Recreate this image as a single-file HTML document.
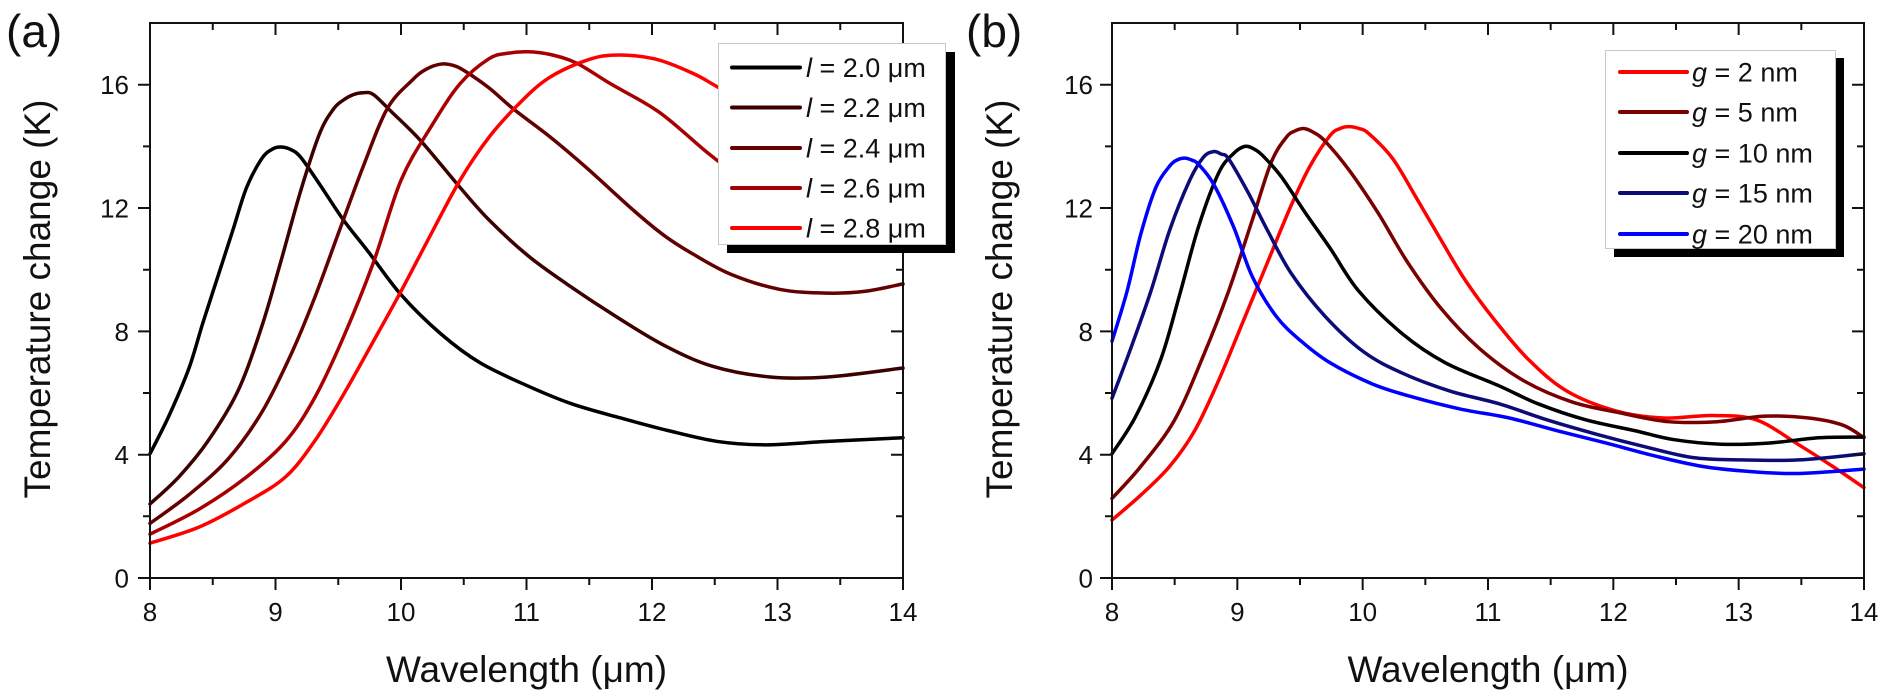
<!DOCTYPE html>
<html>
<head>
<meta charset="utf-8">
<style>
html,body{margin:0;padding:0;background:#fff;}
svg{display:block;}
text{font-family:"Liberation Sans",Arial,sans-serif;fill:#111;}
</style>
</head>
<body>
<svg id="chart" width="1889" height="700" viewBox="0 0 1889 700" xmlns="http://www.w3.org/2000/svg">
<rect x="0" y="0" width="1889" height="700" fill="#fff"/>

<!-- ================= PANEL A ================= -->
<text x="6" y="47" font-size="46">(a)</text>

<g transform="translate(150,578) scale(125.5,-30.83) translate(-8,0)" fill="none" stroke-width="3.5" stroke-linejoin="round" stroke-linecap="round">
<polyline class="c" vector-effect="non-scaling-stroke" stroke="#000000" points="8,4.03 8.15,5.25 8.31,6.8 8.42,8.26 8.54,9.77 8.66,11.28 8.77,12.67 8.89,13.6 8.97,13.9 9.04,13.98 9.12,13.9 9.2,13.65 9.35,12.78 9.54,11.62 9.74,10.58 10.0,9.19 10.32,7.91 10.63,6.98 11.01,6.23 11.36,5.65 11.75,5.19 12.13,4.78 12.52,4.43 12.9,4.32 13.4,4.43 14,4.55"/>
<polyline class="c" vector-effect="non-scaling-stroke" stroke="#3d0000" points="8,2.4 8.23,3.28 8.46,4.43 8.7,6.06 8.89,8.15 9.04,10.23 9.2,12.55 9.35,14.4 9.46,15.2 9.54,15.5 9.62,15.68 9.7,15.74 9.78,15.68 9.93,15.1 10.16,14.17 10.47,12.67 10.7,11.62 11.01,10.46 11.32,9.54 11.71,8.49 12.09,7.56 12.48,6.87 12.94,6.52 13.4,6.52 14,6.81"/>
<polyline class="c" vector-effect="non-scaling-stroke" stroke="#640000" points="8,1.77 8.31,2.7 8.62,3.85 8.89,5.37 9.12,7.22 9.31,9.07 9.51,11.28 9.7,13.36 9.89,15.22 10.09,16.15 10.2,16.5 10.32,16.67 10.42,16.62 10.51,16.44 10.7,15.9 10.9,15.2 11.19,14.3 11.48,13.3 11.86,11.9 12.1,11.1 12.33,10.5 12.63,9.85 13.02,9.36 13.4,9.24 13.7,9.3 14,9.54"/>
<polyline class="c" vector-effect="non-scaling-stroke" stroke="#a80000" points="8,1.42 8.39,2.23 8.77,3.28 9.08,4.43 9.31,5.83 9.54,7.8 9.78,10.23 10.0,12.9 10.24,14.64 10.47,16.03 10.7,16.84 10.85,17.02 11.01,17.07 11.19,16.98 11.4,16.7 11.67,16.03 12.06,15.1 12.44,13.8 12.7,13.0 13,12.2"/>
<polyline class="c" vector-effect="non-scaling-stroke" stroke="#ff0000" points="8,1.13 8.39,1.65 8.77,2.46 9.08,3.28 9.31,4.43 9.54,5.94 9.78,7.68 10.0,9.3 10.24,11.16 10.47,12.9 10.7,14.29 10.93,15.34 11.17,16.2 11.47,16.78 11.7,16.96 12.02,16.84 12.32,16.38 12.53,15.91 13,14.8"/>
</g>

<g stroke="#111" stroke-width="2" fill="none">
<rect x="150" y="23" width="753" height="555"/>
<path d="M150,578v12 M275.5,578v12 M401,578v12 M526.5,578v12 M652,578v12 M777.5,578v12 M903,578v12
M212.75,578v7 M338.25,578v7 M463.75,578v7 M589.25,578v7 M714.75,578v7 M840.25,578v7"/>
<path d="M275.5,23v12 M401,23v12 M526.5,23v12 M652,23v12 M777.5,23v12
M212.75,23v7 M338.25,23v7 M463.75,23v7 M589.25,23v7 M714.75,23v7 M840.25,23v7"/>
<path d="M150,578h-12 M150,454.7h-12 M150,331.4h-12 M150,208h-12 M150,84.7h-12
M150,516.3h-7 M150,393h-7 M150,269.7h-7 M150,146.4h-7"/>
<path d="M903,454.7h-12 M903,331.4h-12 M903,208h-12 M903,84.7h-12
M903,516.3h-7 M903,393h-7 M903,269.7h-7 M903,146.4h-7"/>
</g>

<g font-size="26" text-anchor="middle">
<text x="150" y="621">8</text>
<text x="275.5" y="621">9</text>
<text x="401" y="621">10</text>
<text x="526.5" y="621">11</text>
<text x="652" y="621">12</text>
<text x="777.5" y="621">13</text>
<text x="903" y="621">14</text>
</g>
<g font-size="26" text-anchor="end">
<text x="129" y="587.5">0</text>
<text x="129" y="464">4</text>
<text x="129" y="341">8</text>
<text x="129" y="217.5">12</text>
<text x="129" y="94">16</text>
</g>

<text x="526.5" y="682" font-size="37" text-anchor="middle">Wavelength (μm)</text>
<text transform="translate(50,299) rotate(-90)" font-size="37" text-anchor="middle">Temperature change (K)</text>

<rect x="727" y="52" width="228" height="201" fill="#000"/>
<rect x="718.5" y="43.5" width="227" height="201" fill="#fff" stroke="#c8c8c8" stroke-width="1"/>
<g stroke-width="4" stroke-linecap="round">
<line x1="732" y1="67.5" x2="800" y2="67.5" stroke="#000000"/>
<line x1="732" y1="107.5" x2="800" y2="107.5" stroke="#3d0000"/>
<line x1="732" y1="148" x2="800" y2="148" stroke="#640000"/>
<line x1="732" y1="188" x2="800" y2="188" stroke="#a80000"/>
<line x1="732" y1="228" x2="800" y2="228" stroke="#ff0000"/>
</g>
<g font-size="27">
<text x="806" y="77"><tspan font-style="italic">l</tspan> = 2.0 μm</text>
<text x="806" y="117"><tspan font-style="italic">l</tspan> = 2.2 μm</text>
<text x="806" y="157.5"><tspan font-style="italic">l</tspan> = 2.4 μm</text>
<text x="806" y="197.5"><tspan font-style="italic">l</tspan> = 2.6 μm</text>
<text x="806" y="237.5"><tspan font-style="italic">l</tspan> = 2.8 μm</text>
</g>

<!-- ================= PANEL B ================= -->
<text x="966" y="47" font-size="46">(b)</text>

<g transform="translate(1112,578) scale(125.33,-30.83) translate(-8,0)" fill="none" stroke-width="3.5" stroke-linejoin="round" stroke-linecap="round">
<polyline class="c" vector-effect="non-scaling-stroke" stroke="#ff0000" points="8,1.88 8.23,2.69 8.46,3.62 8.66,4.78 8.85,6.4 9.04,8.26 9.24,10.23 9.43,12.09 9.58,13.36 9.74,14.35 9.82,14.58 9.89,14.64 9.97,14.58 10.05,14.41 10.24,13.6 10.43,12.32 10.63,10.93 10.82,9.65 11.05,8.38 11.32,7.1 11.63,6.06 12.02,5.42 12.4,5.19 12.79,5.27 13.14,5.13 13.48,4.32 13.75,3.62 14,2.93"/>
<polyline class="c" vector-effect="non-scaling-stroke" stroke="#7a0000" points="8,2.58 8.23,3.62 8.5,5.13 8.73,7.22 8.93,9.3 9.12,11.62 9.27,13.48 9.39,14.29 9.46,14.5 9.53,14.58 9.61,14.45 9.7,14.17 9.89,13.24 10.12,11.86 10.36,10.23 10.63,8.72 10.93,7.45 11.28,6.41 11.67,5.71 12.05,5.36 12.44,5.07 12.83,5.07 13.21,5.25 13.56,5.19 13.83,4.96 14,4.55"/>
<polyline class="c" vector-effect="non-scaling-stroke" stroke="#000000" points="8,4.03 8.19,5.25 8.39,7.1 8.54,9.19 8.69,11.39 8.85,13.13 8.97,13.77 9.06,14.0 9.13,13.92 9.2,13.71 9.35,13.02 9.54,11.86 9.74,10.7 9.97,9.3 10.32,7.91 10.66,6.98 11.09,6.23 11.4,5.65 11.78,5.13 12.17,4.78 12.48,4.49 12.86,4.34 13.25,4.38 13.64,4.55 14,4.57"/>
<polyline class="c" vector-effect="non-scaling-stroke" stroke="#0c0c78" points="8,5.83 8.15,7.45 8.31,9.3 8.46,11.28 8.62,12.9 8.73,13.65 8.81,13.83 8.87,13.75 8.93,13.6 9.08,12.55 9.24,11.28 9.43,9.88 9.7,8.49 10.01,7.33 10.32,6.64 10.7,6.06 11.09,5.65 11.47,5.13 11.86,4.67 12.25,4.26 12.63,3.91 13.02,3.83 13.48,3.83 14,4.03"/>
<polyline class="c" vector-effect="non-scaling-stroke" stroke="#0000ff" points="8,7.68 8.12,9.3 8.23,11.16 8.35,12.67 8.46,13.36 8.52,13.56 8.58,13.62 8.64,13.55 8.69,13.42 8.81,12.78 8.97,11.39 9.12,9.77 9.31,8.49 9.51,7.68 9.74,6.98 10.08,6.29 10.39,5.88 10.78,5.48 11.17,5.19 11.55,4.78 11.94,4.38 12.32,3.97 12.71,3.62 13.1,3.45 13.48,3.39 14,3.53"/>
</g>

<g stroke="#111" stroke-width="2" fill="none">
<rect x="1112" y="23" width="752" height="555"/>
<path d="M1112,578v12 M1237.33,578v12 M1362.67,578v12 M1488,578v12 M1613.33,578v12 M1738.67,578v12 M1864,578v12
M1174.67,578v7 M1300,578v7 M1425.33,578v7 M1550.67,578v7 M1676,578v7 M1801.33,578v7"/>
<path d="M1237.33,23v12 M1362.67,23v12 M1488,23v12 M1613.33,23v12 M1738.67,23v12
M1174.67,23v7 M1300,23v7 M1425.33,23v7 M1550.67,23v7 M1676,23v7 M1801.33,23v7"/>
<path d="M1112,578h-12 M1112,454.7h-12 M1112,331.4h-12 M1112,208h-12 M1112,84.7h-12
M1112,516.3h-7 M1112,393h-7 M1112,269.7h-7 M1112,146.4h-7"/>
<path d="M1864,454.7h-12 M1864,331.4h-12 M1864,208h-12 M1864,84.7h-12
M1864,516.3h-7 M1864,393h-7 M1864,269.7h-7 M1864,146.4h-7"/>
</g>

<g font-size="26" text-anchor="middle">
<text x="1112" y="621">8</text>
<text x="1237.33" y="621">9</text>
<text x="1362.67" y="621">10</text>
<text x="1488" y="621">11</text>
<text x="1613.33" y="621">12</text>
<text x="1738.67" y="621">13</text>
<text x="1864" y="621">14</text>
</g>
<g font-size="26" text-anchor="end">
<text x="1093" y="587.5">0</text>
<text x="1093" y="464">4</text>
<text x="1093" y="341">8</text>
<text x="1093" y="217.5">12</text>
<text x="1093" y="94">16</text>
</g>

<text x="1488" y="682" font-size="37" text-anchor="middle">Wavelength (μm)</text>
<text transform="translate(1012,299) rotate(-90)" font-size="37" text-anchor="middle">Temperature change (K)</text>

<rect x="1614" y="58" width="230" height="199" fill="#000"/>
<rect x="1605.5" y="50.5" width="230" height="198" fill="#fff" stroke="#c8c8c8" stroke-width="1"/>
<g stroke-width="4" stroke-linecap="round">
<line x1="1620" y1="72" x2="1687" y2="72" stroke="#ff0000"/>
<line x1="1620" y1="112" x2="1687" y2="112" stroke="#7a0000"/>
<line x1="1620" y1="153" x2="1687" y2="153" stroke="#000000"/>
<line x1="1620" y1="193" x2="1687" y2="193" stroke="#0c0c78"/>
<line x1="1620" y1="234" x2="1687" y2="234" stroke="#0000ff"/>
</g>
<g font-size="27">
<text x="1692" y="81.5"><tspan font-style="italic">g</tspan> = 2 nm</text>
<text x="1692" y="121.5"><tspan font-style="italic">g</tspan> = 5 nm</text>
<text x="1692" y="162.5"><tspan font-style="italic">g</tspan> = 10 nm</text>
<text x="1692" y="202.5"><tspan font-style="italic">g</tspan> = 15 nm</text>
<text x="1692" y="243.5"><tspan font-style="italic">g</tspan> = 20 nm</text>
</g>

</svg>
<script>
(function(){
  var NS="http://www.w3.org/2000/svg";
  var pls=document.querySelectorAll("polyline.c");
  for(var i=0;i<pls.length;i++){
    var pl=pls[i];
    var raw=pl.getAttribute("points").trim().split(/\s+/);
    var p=raw.map(function(s){var a=s.split(",");return [parseFloat(a[0]),parseFloat(a[1])];});
    var d="M"+p[0][0]+","+p[0][1];
    for(var k=0;k<p.length-1;k++){
      var p0=p[k>0?k-1:k],p1=p[k],p2=p[k+1],p3=p[k+2<p.length?k+2:k+1];
      var c1x=p1[0]+(p2[0]-p0[0])/6,c1y=p1[1]+(p2[1]-p0[1])/6;
      var c2x=p2[0]-(p3[0]-p1[0])/6,c2y=p2[1]-(p3[1]-p1[1])/6;
      d+=" C"+c1x.toFixed(4)+","+c1y.toFixed(4)+" "+c2x.toFixed(4)+","+c2y.toFixed(4)+" "+p2[0]+","+p2[1];
    }
    var path=document.createElementNS(NS,"path");
    path.setAttribute("d",d);
    path.setAttribute("stroke",pl.getAttribute("stroke"));
    path.setAttribute("vector-effect","non-scaling-stroke");
    pl.parentNode.replaceChild(path,pl);
  }
})();
</script>
</body>
</html>
